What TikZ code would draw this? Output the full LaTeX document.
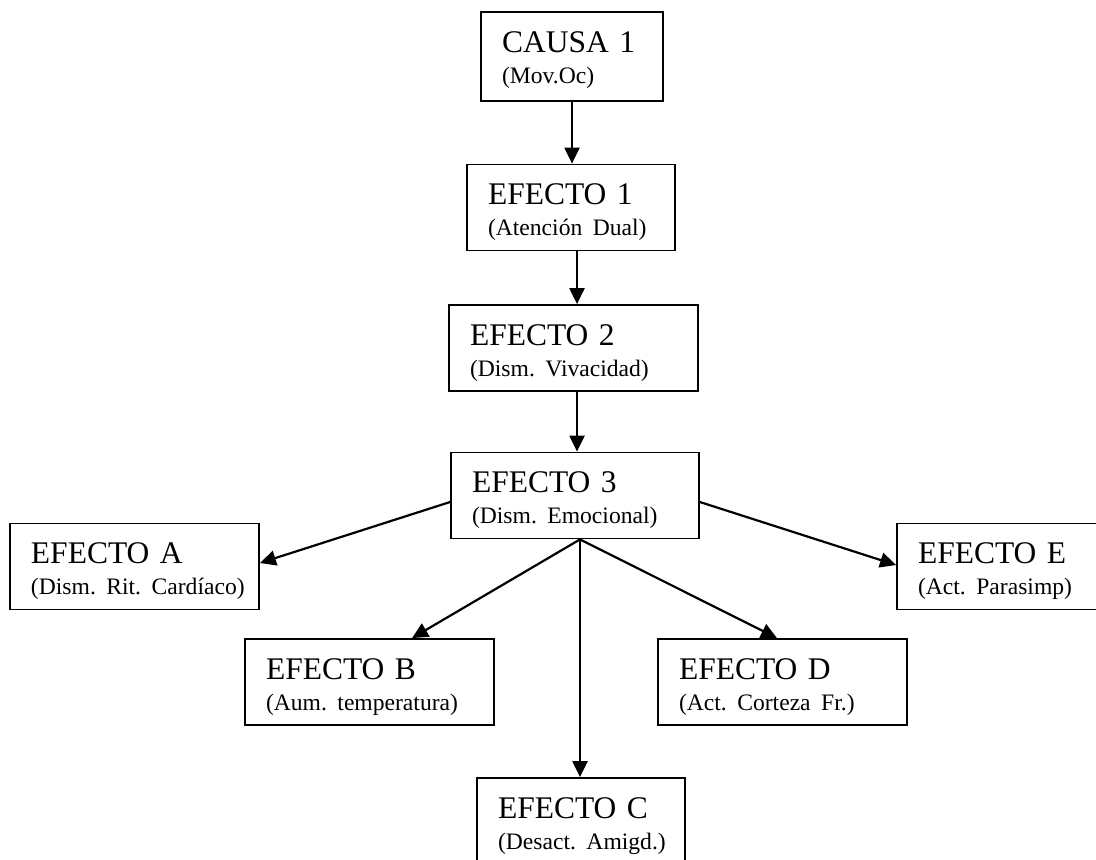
\documentclass[tikz,border=0pt]{standalone}
\usepackage{fontspec}
\setmainfont{Liberation Serif}[WordSpace=0.85]
\usetikzlibrary{arrows.meta,calc,positioning}
\frenchspacing
\newcommand{\subt}[1]{\\\mbox{\fontsize{11.8pt}{15.5pt}\selectfont #1}}

\begin{document}
\begin{tikzpicture}[x=0.5pt,y=-0.5pt,>={Triangle[length=8pt,width=7.5pt]},
    caja/.style={draw,line width=0.9pt,align=left,inner xsep=10.5pt,inner ysep=0pt,
      text height=20pt,text depth=23pt,font=\fontsize{15.75pt}{15.5pt}\selectfont},
    flecha/.style={->,line width=1.1pt}]
    \useasboundingbox (0,0) rectangle (1096,859);
    \clip (0,0) rectangle (1096,859);
    \node[caja,text width=70pt,text depth=24.5pt] (causa) at (572,56.5) {CAUSA 1\subt{(Mov.Oc)}};
    \node[caja,text width=83pt] (e1) at (571,207.5) {EFECTO 1\subt{(Atención Dual)}};
    \node[caja,text width=103.5pt] (e2) at (573.5,348) {EFECTO 2\subt{(Dism. Vivacidad)}};
    \node[caja,text width=103pt] (e3) at (575,495.5) {EFECTO 3\subt{(Dism. Emocional)}};
    \node[caja,text width=103.5pt] (ea) at (134.5,566.5) {EFECTO A\subt{(Dism. Rit. Cardíaco)}};
    \node[caja,text width=83pt] (ee) at (1001,566.5) {EFECTO E\subt{(Act. Parasimp)}};
    \node[caja,text width=103.5pt] (eb) at (369.5,682) {EFECTO B\subt{(Aum. temperatura)}};
    \node[caja,text width=103.5pt] (ed) at (782.5,682) {EFECTO D\subt{(Act. Corteza Fr.)}};
    \node[caja,text width=83pt] (ec) at (581,821) {EFECTO C\subt{(Desact. Amigd.)}};
    \coordinate (p1) at ($(e1.south)+(6,0)$);
    \coordinate (p2) at ($(e2.south)+(3.5,0)$);
    \coordinate (abanico) at ($(e3.south)+(5,0)$);
    \draw[flecha] (causa.south) -- (causa.south |- e1.north);
    \draw[flecha] (p1) -- (p1 |- e2.north);
    \draw[flecha] (p2) -- (p2 |- e3.north);
    \draw[flecha] ($(e3.west)+(0,6.5)$) -- ($(ea.east)+(0,-3.5)$);
    \draw[flecha] ($(e3.east)+(0,6.5)$) -- ($(ee.west)+(0,-1.5)$);
    \draw[flecha] (abanico) -- ($(eb.north)+(42.5,0)$);
    \draw[flecha] (abanico) -- (abanico |- ec.north);
    \draw[flecha] (abanico) -- ($(ed.north)+(-5.5,0)$);
\end{tikzpicture}
\end{document}
